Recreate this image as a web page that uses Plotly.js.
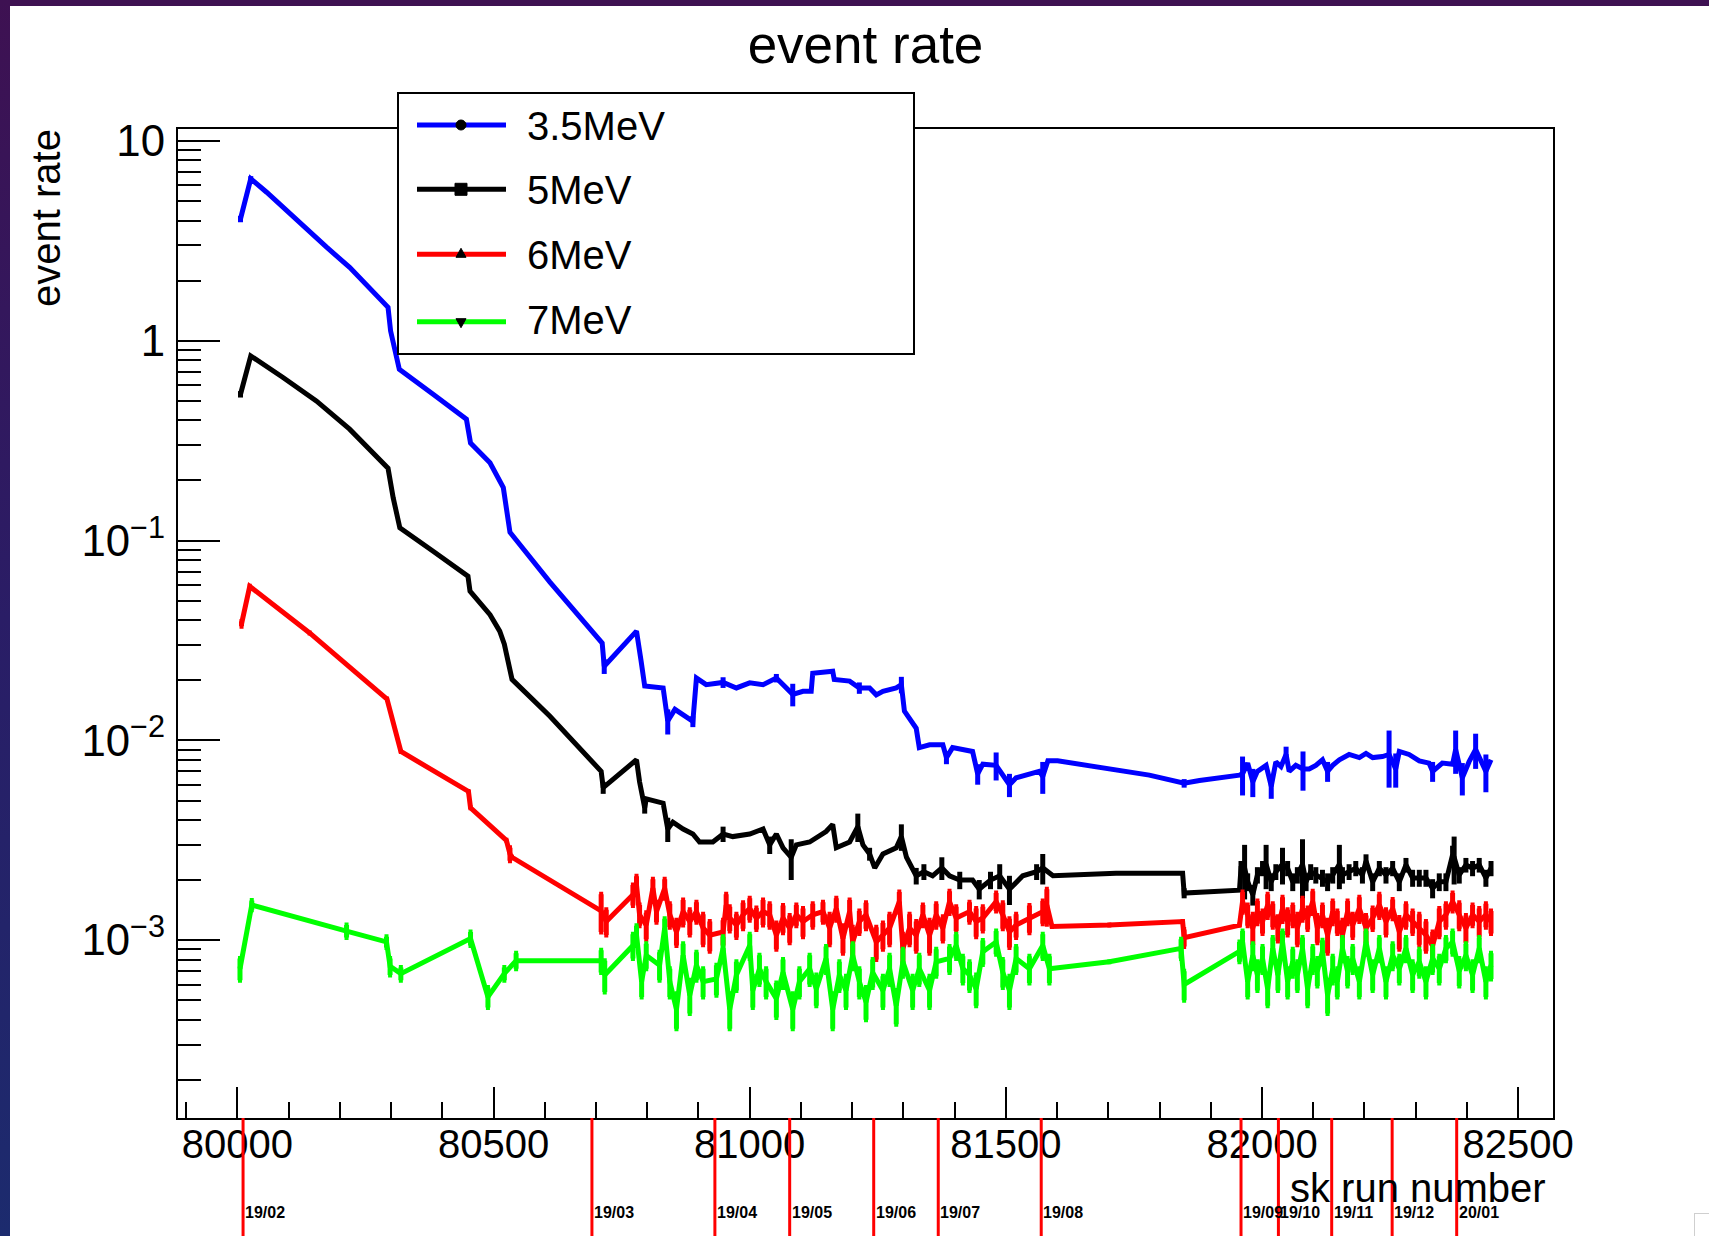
<!DOCTYPE html>
<html>
<head>
<meta charset="utf-8">
<script src="https://cdn.plot.ly/plotly-3.0.1.min.js"></script>
<style>
html,body{margin:0;padding:0;background:#fff;width:1709px;height:1236px;overflow:hidden;}
#chart{position:absolute;left:0;top:0;width:1709px;height:1236px;}
#topband{position:absolute;left:0;top:0;width:1709px;height:6px;background:#3e1152;z-index:5;}
#leftband{position:absolute;left:0;top:0;width:10px;height:1236px;background:linear-gradient(#3e1152,#2a1d66 50%,#1c2b6e);z-index:5;}
#corner{position:absolute;left:1694px;top:1213px;width:30px;height:40px;border:1px solid #cfcfcf;background:#fff;z-index:5;}
</style>
</head>
<body>
<div id="chart"></div>
<div id="topband"></div>
<div id="leftband"></div>
<div id="corner"></div>
<script>
// ---------------- data ----------------
const seriesNames = ['3.5MeV', '5MeV', '6MeV', '7MeV'];
const seriesColors = ['#0000ff', '#000000', '#ff0000', '#00ff00'];

const monthRuns = [80011, 80692, 80932, 81078, 81242, 81368, 81569, 81959, 82032, 82136, 82254, 82380];
const monthLabels = ['19/02', '19/03', '19/04', '19/05', '19/06', '19/07', '19/08', '19/09', '19/10', '19/11', '19/12', '20/01'];

// 3.5 MeV
const runs35 = [
 80006, 80026, 80057, 80102, 80135, 80174, 80219, 80245, 80294, 80299,
 80316, 80382, 80447, 80455, 80493, 80519, 80532, 80610, 80694, 80712,
 80716, 80779, 80788, 80795, 80831, 80840, 80854, 80870, 80889, 80896,
 80915, 80948, 80974, 81000, 81026, 81052, 81065, 81084, 81104, 81120,
 81123, 81162, 81165, 81195, 81214, 81234, 81247, 81260, 81286, 81296,
 81302, 81325, 81331, 81351, 81377, 81384, 81396, 81435, 81445, 81455,
 81481, 81507, 81520, 81565, 81572, 81582, 81601, 81702, 81780, 81848,
 81878, 81956, 81962, 81972, 81982, 81991, 82008, 82018, 82027, 82037,
 82047, 82053, 82066, 82080, 82092, 82105, 82118, 82128, 82138, 82151,
 82170, 82190, 82203, 82216, 82235, 82248, 82261, 82268, 82287, 82307,
 82326, 82333, 82352, 82372, 82378, 82391, 82404, 82417, 82424, 82437,
 82447];
const rate35 = [
 4.07, 6.47, 5.54, 4.32, 3.63, 2.94, 2.33, 2.00, 1.47, 1.12,
 0.72, 0.54, 0.405, 0.308, 0.245, 0.184, 0.110, 0.062, 0.0352, 0.0307,
 0.0235, 0.0352, 0.0249, 0.0187, 0.0183, 0.0125, 0.0143, 0.0135, 0.01245, 0.0205,
 0.0190, 0.0195, 0.0183, 0.0194, 0.0190, 0.0205, 0.0190, 0.0170, 0.0176, 0.0176,
 0.0217, 0.0222, 0.0202, 0.0198, 0.0183, 0.0183, 0.0169, 0.0176, 0.0183, 0.0190,
 0.0140, 0.0115, 0.0092, 0.0095, 0.0095, 0.0082, 0.0092, 0.0088, 0.0068, 0.0076,
 0.0075, 0.0060, 0.0065, 0.0070, 0.0066, 0.0079, 0.0079, 0.0072, 0.0067, 0.0061,
 0.0063, 0.0067, 0.0068, 0.0077, 0.0062, 0.0070, 0.0075, 0.0059, 0.0078, 0.0074,
 0.0085, 0.0070, 0.0075, 0.0072, 0.0072, 0.0075, 0.0080, 0.0070, 0.0075, 0.0080,
 0.0085, 0.0082, 0.0086, 0.0082, 0.0083, 0.0085, 0.0072, 0.0088, 0.0085, 0.0079,
 0.0077, 0.0070, 0.0077, 0.0076, 0.0090, 0.0065, 0.0078, 0.0090, 0.0083, 0.0070,
 0.0080];
const err35 = [
 0.15, 0.2, 0, 0, 0, 0, 0, 0, 0, 0,
 0, 0, 0, 0, 0, 0, 0, 0, 0, 0,
 0.002, 0, 0, 0, 0, 0.0018, 0, 0, 0.0008, 0,
 0, 0.0012, 0, 0, 0, 0.001, 0, 0.0022, 0, 0,
 0, 0, 0, 0, 0.0012, 0, 0, 0, 0, 0.0018,
 0, 0, 0, 0, 0, 0.0006, 0, 0, 0.0008, 0,
 0.0012, 0.0008, 0, 0, 0.0012, 0, 0, 0, 0, 0.0003,
 0, 0, 0.0015, 0, 0.001, 0, 0, 0.0008, 0, 0,
 0.0008, 0, 0, 0.0016, 0, 0, 0, 0.0008, 0, 0,
 0, 0, 0, 0, 0, 0.0027, 0.0014, 0, 0, 0,
 0, 0.0008, 0, 0, 0.0022, 0.0012, 0, 0.0018, 0, 0.0015,
 0];

// 5 MeV
const runs5 = [
 80006, 80026, 80089, 80154, 80219, 80288, 80294, 80304, 80317, 80382,
 80450, 80454, 80493, 80512, 80521, 80536, 80610, 80710, 80714, 80779,
 80785, 80795, 80798, 80831, 80840, 80850, 80870, 80889, 80902, 80928,
 80948, 80967, 81000, 81026, 81039, 81052, 81065, 81081, 81091, 81117,
 81149, 81162, 81169, 81195, 81211, 81221, 81234, 81244, 81260, 81286,
 81296, 81306, 81325, 81340, 81357, 81375, 81390, 81410, 81435, 81448,
 81470, 81488, 81507, 81533, 81560, 81572, 81592, 81715, 81845, 81848,
 81956, 81959, 81966, 81972, 81982, 81991, 82001, 82008, 82018, 82027,
 82040, 82050, 82060, 82069, 82079, 82086, 82095, 82105, 82118, 82128,
 82138, 82151, 82157, 82170, 82183, 82196, 82203, 82216, 82229, 82242,
 82255, 82268, 82281, 82294, 82307, 82320, 82333, 82346, 82359, 82372,
 82375, 82385, 82398, 82411, 82424, 82437, 82447];
const rate5 = [
 0.54, 0.84, 0.655, 0.50, 0.361, 0.236, 0.23, 0.164, 0.116, 0.0885,
 0.0664, 0.0558, 0.0426, 0.0352, 0.0303, 0.0202, 0.0132, 0.0070, 0.0058, 0.0080,
 0.0062, 0.0046, 0.0051, 0.00485, 0.0036, 0.0039, 0.0036, 0.0034, 0.0031, 0.0031,
 0.0034, 0.0033, 0.0034, 0.0036, 0.0030, 0.0034, 0.0029, 0.0026, 0.0030, 0.0031,
 0.0035, 0.0038, 0.0029, 0.0031, 0.0037, 0.0030, 0.0027, 0.0023, 0.0027, 0.0029,
 0.0033, 0.0026, 0.0021, 0.0022, 0.0021, 0.0023, 0.0021, 0.0020, 0.0020, 0.0018,
 0.0020, 0.0021, 0.0018, 0.0021, 0.0022, 0.0023, 0.0021, 0.00216, 0.00216, 0.00172,
 0.00178, 0.00229, 0.0023, 0.00196, 0.00169, 0.00212, 0.00229, 0.0024, 0.00196, 0.0022,
 0.0024, 0.00229, 0.00196, 0.00212, 0.0024, 0.00196, 0.0022, 0.00212, 0.00205, 0.00196,
 0.00212, 0.0024, 0.00212, 0.0022, 0.00229, 0.00212, 0.00249, 0.00196, 0.00229, 0.00212,
 0.00229, 0.00196, 0.00238, 0.00205, 0.00205, 0.00205, 0.00182, 0.00196, 0.00196, 0.00267,
 0.0026, 0.00212, 0.00238, 0.00229, 0.00238, 0.00205, 0.00229];
const err5 = [
 0.02, 0, 0, 0, 0, 0, 0, 0, 0, 0,
 0, 0, 0, 0, 0, 0, 0, 0, 0.0004, 0,
 0, 0.0003, 0, 0, 0.0005, 0, 0, 0, 0, 0,
 0.0003, 0, 0, 0, 0.0003, 0, 0, 0.0006, 0, 0,
 0, 0, 0, 0, 0.0006, 0, 0.0002, 0, 0, 0,
 0.0005, 0, 0.0002, 0.0002, 0, 0.0003, 0, 0.0002, 0, 0.0002,
 0.0002, 0.0003, 0.0003, 0, 0.0002, 0.0004, 0, 0, 0, 0.0001,
 0, 0.0002, 0.0007, 0.0002, 0.0002, 0.0002, 0.0002, 0.0006, 0.0002, 0.0002,
 0.0005, 0.0002, 0.0002, 0.0002, 0.0008, 0.0002, 0.0002, 0.0002, 0.0002, 0.0002,
 0.0002, 0.0006, 0.0002, 0.0002, 0.0002, 0.0002, 0.0002, 0.0002, 0.0002, 0.0002,
 0.0002, 0.0002, 0.0002, 0.0002, 0.0002, 0.0002, 0.0002, 0.0002, 0.0002, 0.0003,
 0.0007, 0.0002, 0.0002, 0.0002, 0.0002, 0.0002, 0.0002];

// 6 MeV
const runs6 = [
 80008, 80024, 80141, 80292, 80319, 80451, 80455, 80525, 80532, 80536,
 80710, 80720, 80772, 80779, 80785, 80798, 80811, 80818, 80834, 80844,
 80857, 80870, 80883, 80896, 80909, 80922, 80948, 80954, 80961, 80974,
 80987, 81000, 81013, 81026, 81039, 81052, 81065, 81078, 81091, 81104,
 81123, 81143, 81156, 81169, 81182, 81195, 81201, 81214, 81227, 81247,
 81260, 81273, 81292, 81299, 81312, 81325, 81338, 81351, 81364, 81377,
 81390, 81403, 81429, 81442, 81455, 81481, 81494, 81507, 81520, 81546,
 81572, 81580, 81590, 81702, 81845, 81848, 81956, 81962, 81972, 81982,
 81991, 82001, 82011, 82021, 82031, 82040, 82050, 82060, 82069, 82079,
 82089, 82099, 82108, 82118, 82128, 82138, 82147, 82157, 82167, 82177,
 82190, 82203, 82216, 82229, 82242, 82255, 82268, 82281, 82294, 82307,
 82320, 82333, 82346, 82359, 82372, 82385, 82398, 82411, 82424, 82437,
 82447];
const rate6 = [
 0.0383, 0.0590, 0.0345, 0.0161, 0.0088, 0.00555, 0.0046, 0.00316, 0.0027, 0.0026,
 0.00140, 0.00124, 0.00169, 0.00189, 0.00134, 0.00119, 0.00182, 0.00139, 0.00182, 0.00134,
 0.00110, 0.00139, 0.00124, 0.00139, 0.00115, 0.00106, 0.00110, 0.00150, 0.00129, 0.00119,
 0.00134, 0.00144, 0.00129, 0.00139, 0.00134, 0.00106, 0.00129, 0.00115, 0.00134, 0.00124,
 0.00134, 0.00139, 0.00115, 0.00144, 0.00102, 0.00139, 0.00098, 0.00124, 0.00134, 0.00098,
 0.00106, 0.00115, 0.00156, 0.00091, 0.00115, 0.00106, 0.00134, 0.00106, 0.00134, 0.00115,
 0.00156, 0.00129, 0.00139, 0.00124, 0.00129, 0.00156, 0.00134, 0.00110, 0.00119, 0.00129,
 0.00139, 0.00150, 0.00117, 0.00119, 0.00124, 0.00103, 0.00119, 0.00156, 0.00134, 0.00115,
 0.00139, 0.00124, 0.00150, 0.00134, 0.00115, 0.00144, 0.00124, 0.00134, 0.00115, 0.00144,
 0.00129, 0.00156, 0.00115, 0.00134, 0.00106, 0.00139, 0.00124, 0.00106, 0.00139, 0.00119,
 0.00144, 0.00115, 0.00129, 0.00150, 0.00124, 0.00144, 0.00110, 0.00134, 0.00124, 0.00115,
 0.00106, 0.00094, 0.00124, 0.00134, 0.00156, 0.00134, 0.00115, 0.00134, 0.00124, 0.00134,
 0.00124];
const err6 = [
 0.001, 0, 0, 0, 0, 0, 0, 0, 0.0002, 0,
 0.0003, 0.00018, 0.0002, 0.0002, 0.00016, 0.00018, 0.0002, 0.00016, 0.0002, 0.00018,
 0.00016, 0.0002, 0.00018, 0.00016, 0.0002, 0.00018, 0.00016, 0.0002, 0.00018, 0.00016,
 0.0002, 0.00018, 0.00016, 0.0002, 0.00018, 0.00016, 0.0002, 0.00018, 0.00016, 0.0002,
 0.00018, 0.00016, 0.0002, 0.00018, 0.00016, 0.0002, 0.00018, 0.00016, 0.0002, 0.00018,
 0.00016, 0.0002, 0.00018, 0.00016, 0.0002, 0.00018, 0.00016, 0.0002, 0.00018, 0.00016,
 0.0002, 0.00018, 0.00016, 0.0002, 0.00018, 0.00016, 0.0002, 0.00018, 0.00016, 0.0002,
 0.00018, 0.0003, 0, 0, 0, 0.0001, 0, 0.00018, 0.00016, 0.0002,
 0.00018, 0.00016, 0.0002, 0.00018, 0.00016, 0.0002, 0.00018, 0.00016, 0.0002, 0.00018,
 0.00016, 0.0002, 0.00018, 0.00016, 0.0002, 0.00018, 0.00016, 0.0002, 0.00018, 0.00016,
 0.0002, 0.00018, 0.00016, 0.0002, 0.00018, 0.00016, 0.0002, 0.00018, 0.00016, 0.0002,
 0.00018, 0.00016, 0.0002, 0.00018, 0.00016, 0.0002, 0.00018, 0.00016, 0.0002, 0.00018,
 0.00016];

// 7 MeV
const runs7 = [
 80005, 80028, 80213, 80291, 80298, 80319, 80455, 80489, 80521, 80544,
 80710, 80717, 80772, 80779, 80789, 80798, 80824, 80834, 80844, 80857,
 80870, 80883, 80896, 80909, 80935, 80948, 80961, 80974, 81000, 81006,
 81019, 81032, 81052, 81065, 81084, 81097, 81117, 81130, 81149, 81162,
 81175, 81188, 81201, 81214, 81227, 81240, 81260, 81273, 81286, 81299,
 81318, 81331, 81351, 81364, 81390, 81403, 81416, 81429, 81442, 81455,
 81481, 81494, 81507, 81520, 81546, 81572, 81585, 81702, 81842, 81848,
 81956, 81962, 81972, 81982, 81991, 82001, 82011, 82021, 82031, 82040,
 82050, 82060, 82069, 82079, 82089, 82099, 82108, 82118, 82128, 82138,
 82147, 82157, 82167, 82177, 82190, 82203, 82216, 82229, 82242, 82255,
 82268, 82281, 82294, 82307, 82320, 82333, 82346, 82359, 82372, 82385,
 82398, 82411, 82424, 82437, 82447];
const rate7 = [
 0.00072, 0.00150, 0.00111, 0.00098, 0.00074, 0.00068, 0.00102, 0.00052, 0.00068, 0.00079,
 0.00079, 0.00067, 0.00094, 0.00106, 0.00062, 0.00084, 0.00075, 0.00115, 0.00062, 0.00045,
 0.00084, 0.00053, 0.00075, 0.00062, 0.00064, 0.00091, 0.00045, 0.00067, 0.00094, 0.00056,
 0.00072, 0.00062, 0.00051, 0.00069, 0.00045, 0.00062, 0.00072, 0.00057, 0.00081, 0.00045,
 0.00067, 0.00056, 0.00084, 0.00062, 0.00049, 0.00069, 0.00056, 0.00072, 0.00047, 0.00078,
 0.00056, 0.00072, 0.00056, 0.00078, 0.00081, 0.00094, 0.00072, 0.00067, 0.00057, 0.000875,
 0.00098, 0.00069, 0.00056, 0.00081, 0.00072, 0.00094, 0.00072, 0.00078, 0.00091, 0.00060,
 0.00088, 0.00098, 0.00062, 0.00084, 0.00067, 0.00081, 0.00057, 0.00091, 0.00067, 0.00098,
 0.00062, 0.00078, 0.00067, 0.00091, 0.00057, 0.00081, 0.00070, 0.00088, 0.00053, 0.00072,
 0.00062, 0.00091, 0.00070, 0.00081, 0.00062, 0.00098, 0.00067, 0.00091, 0.00062, 0.00084,
 0.00072, 0.00091, 0.00067, 0.00078, 0.00062, 0.00081, 0.00072, 0.00091, 0.00098, 0.00070,
 0.00084, 0.00067, 0.00091, 0.00062, 0.00075];
const err7 = [
 0.00009, 0.00008, 0.00008, 0.00006, 0.00007, 0.00005, 0.00008, 0.00006, 0.00005, 0.00007,
 0.0001, 0.00012, 0.00013, 0.00012, 0.0001, 0.00012, 0.00012, 0.00013, 0.0001, 0.00009,
 0.00012, 0.0001, 0.00012, 0.0001, 0.00011, 0.00013, 0.00009, 0.00011, 0.00013, 0.0001,
 0.00012, 0.0001, 0.0001, 0.00011, 0.00009, 0.0001, 0.00012, 0.0001, 0.00012, 0.00009,
 0.00011, 0.0001, 0.00012, 0.0001, 0.00009, 0.00011, 0.0001, 0.00012, 0.00009, 0.00012,
 0.0001, 0.00012, 0.0001, 0.00012, 0.00012, 0.00013, 0.00011, 0.00011, 0.0001, 0.00012,
 0.00013, 0.00011, 0.0001, 0.00012, 0.00011, 0.00013, 0.00011, 0, 0.0001, 0.0001,
 0.0001, 0.00013, 0.0001, 0.00012, 0.00011, 0.00012, 0.0001, 0.00012, 0.00011, 0.00013,
 0.0001, 0.00012, 0.00011, 0.00012, 0.0001, 0.00012, 0.00011, 0.00012, 0.0001, 0.00011,
 0.0001, 0.00012, 0.00011, 0.00012, 0.0001, 0.00013, 0.00011, 0.00012, 0.0001, 0.00012,
 0.00011, 0.00012, 0.00011, 0.00012, 0.0001, 0.00012, 0.00011, 0.00012, 0.00013, 0.00011,
 0.00012, 0.00011, 0.00012, 0.0001, 0.00011];

// ---------------- chart ----------------
const FONT = 'Liberation Sans, Arial, Helvetica, sans-serif';
const W = 1709, H = 1236;
const M = {l: 178, r: 156, t: 129, b: 118};
const PW = W - M.l - M.r, PH = H - M.t - M.b;
const px = v => (v - M.l) / PW;          // page pixel -> paper x
const py = v => (H - M.b - v) / PH;      // page pixel -> paper y

function mk(runs, rate, err, i, capw) {
  return {
    type: 'scatter', mode: 'lines', x: runs, y: rate, name: seriesNames[i],
    line: {color: seriesColors[i], width: 5},
    error_y: {type: 'data', array: err, visible: true, color: seriesColors[i], thickness: 5, width: capw},
    showlegend: false, hoverinfo: 'skip'
  };
}
const traces = [
  mk(runs35, rate35, err35, 0, 0),
  mk(runs5, rate5, err5, 1, 0),
  mk(runs6, rate6, err6, 2, 2),
  mk(runs7, rate7, err7, 3, 2)
];

const shapes = [];
const annotations = [];

// month markers below the axis
monthRuns.forEach((r, i) => {
  shapes.push({type: 'line', xref: 'x', yref: 'paper', x0: r, x1: r, y0: 0, y1: -0.13,
               line: {color: '#ff0000', width: 3}, layer: 'above'});
  annotations.push({xref: 'x', yref: 'paper', x: r, y: py(1212), xanchor: 'left', yanchor: 'middle',
               text: monthLabels[i], showarrow: false,
               font: {family: FONT, size: 16, color: '#000', weight: 'bold'}});
});

// legend box (ROOT style)
shapes.push({type: 'rect', xref: 'paper', yref: 'paper', x0: px(398), x1: px(914), y0: py(354), y1: py(93),
             fillcolor: '#ffffff', line: {color: '#000', width: 2}, layer: 'above'});
const legY = [125, 189.3, 254.3, 321.7];
const legTextY = [126, 190, 255, 319.5];
const mx = px(461);
seriesNames.forEach((n, i) => {
  shapes.push({type: 'line', xref: 'paper', yref: 'paper', x0: px(417), x1: px(506), y0: py(legY[i]), y1: py(legY[i]),
               line: {color: seriesColors[i], width: 5}, layer: 'above'});
  annotations.push({xref: 'paper', yref: 'paper', x: px(525), y: py(legTextY[i]), xanchor: 'left', yanchor: 'middle',
               text: n, showarrow: false, font: {family: FONT, size: 40, color: '#000'}});
});
const mk0 = {xref: 'paper', yref: 'paper', xsizemode: 'pixel', ysizemode: 'pixel', fillcolor: '#000', line: {color: '#000', width: 1}, layer: 'above'};
shapes.push(Object.assign({}, mk0, {type: 'circle', xanchor: mx, yanchor: py(legY[0]), x0: -5, x1: 5, y0: -5, y1: 5}));
shapes.push(Object.assign({}, mk0, {type: 'rect', xanchor: mx, yanchor: py(legY[1]), x0: -6, x1: 6, y0: -6, y1: 6}));
shapes.push(Object.assign({}, mk0, {type: 'path', xanchor: mx, yanchor: py(legY[2]), path: 'M-5,-3 L5,-3 L0,6 Z'}));
shapes.push(Object.assign({}, mk0, {type: 'path', xanchor: mx, yanchor: py(legY[3]), path: 'M-5,3 L5,3 L0,-6 Z'}));

// axis titles (ROOT places them at the axis ends)
annotations.push({xref: 'paper', yref: 'paper', x: px(1548), y: py(1188), xanchor: 'right', yanchor: 'middle',
  text: 'sk run number', showarrow: false, font: {family: FONT, size: 40, color: '#000'}});
annotations.push({xref: 'paper', yref: 'paper', x: px(46), y: py(218), xanchor: 'center', yanchor: 'middle',
  text: 'event rate', textangle: -90, showarrow: false, font: {family: FONT, size: 40, color: '#000'}});

const layout = {
  width: W, height: H,
  margin: M,
  paper_bgcolor: 'rgba(0,0,0,0)',
  plot_bgcolor: '#ffffff',
  showlegend: false,
  hovermode: false,
  font: {family: FONT, color: '#000'},
  title: {text: 'event rate', font: {family: FONT, size: 53, color: '#000'},
          x: 0.5, xref: 'paper', xanchor: 'center', y: 1 - 44 / H, yref: 'container', yanchor: 'middle'},
  xaxis: {
    type: 'linear', range: [79884, 82568], tickformat: 'd',
    dtick: 500, tick0: 0, ticks: 'inside', ticklen: 31, tickwidth: 2, tickcolor: '#000',
    minor: {ticks: 'inside', ticklen: 16, tickwidth: 2, tickcolor: '#000', dtick: 100, tick0: 0, showgrid: false},
    showline: true, linecolor: '#000', linewidth: 2, mirror: true,
    showgrid: false, zeroline: false,
    tickfont: {family: FONT, size: 40, color: '#000'}, ticklabelstandoff: -10
  },
  yaxis: {
    type: 'log', range: [-3.89, 1.06], dtick: 1, tick0: 0, exponentformat: 'power',
    ticks: 'inside', ticklen: 42, tickwidth: 2, tickcolor: '#000',
    minor: {ticks: 'inside', ticklen: 23, tickwidth: 2, tickcolor: '#000', dtick: 'D1', showgrid: false},
    showline: true, linecolor: '#000', linewidth: 2, mirror: true,
    showgrid: false, zeroline: false,
    tickfont: {family: FONT, size: 35, color: '#000'}, ticklabelstandoff: 4
  },
  shapes: shapes,
  annotations: annotations
};

Plotly.newPlot('chart', traces, layout, {displayModeBar: false, staticPlot: true});
</script>
</body>
</html>
